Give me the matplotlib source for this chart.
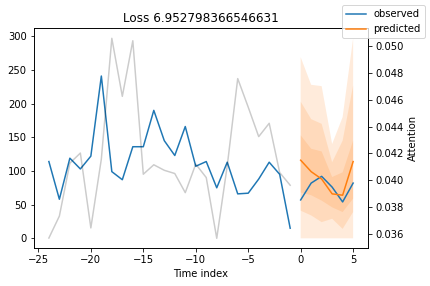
import matplotlib
matplotlib.use("Agg")
import matplotlib.pyplot as plt

# encoder part (history)
x_encoder = list(range(-24, 0))
y_encoder = [114, 58, 119, 103, 122, 241, 99, 87, 136, 136, 190, 145,
             123, 166, 107, 114, 75, 113, 66, 67, 88, 113, 95, 15]
attention = [0.03572, 0.03735, 0.04128, 0.04203, 0.03647, 0.04158, 0.05055, 0.04624,
             0.05037, 0.04046, 0.04116, 0.04075, 0.04051, 0.03909, 0.04121, 0.04021,
             0.03570, 0.04108, 0.04756, 0.04544, 0.04325, 0.04424, 0.04058, 0.03964]

# decoder part (forecast horizon)
x_decoder = list(range(0, 6))
y_decoder = [57, 82, 92, 76, 54, 82]
y_pred = [116, 99, 88, 66, 64, 114]
# quantiles 0.02, 0.1, 0.25, 0.75, 0.9, 0.98
q02 = [0, 0, 0, 0, 0, 0]
q10 = [41, 34, 24, 29, 14, 39]
q25 = [68, 64, 56, 46, 39, 59]
q75 = [153, 133, 129, 91, 98, 145]
q90 = [203, 177, 170, 113, 145, 227]
q98 = [269, 228, 226, 140, 180, 297]

loss = 6.952798366546631

obs_color = "C0"
pred_color = "C1"

fig = plt.figure(figsize=(430 / 72, 286 / 72), dpi=72)
ax = fig.add_axes([0.0783, 0.1318, 0.7783, 0.7692])

ax.plot(x_encoder, y_encoder, label="observed", c=obs_color)
ax.plot(x_decoder, y_decoder, c=obs_color)
ax.plot(x_decoder, y_pred, label="predicted", c=pred_color)

for lo, hi in [(q02, q98), (q10, q90), (q25, q75)]:
	ax.fill_between(x_decoder, lo, hi, alpha=0.15, fc=pred_color)

ax2 = ax.twinx()
ax2.plot(x_encoder, attention, alpha=0.2, color="k")
ax2.set_ylabel("Attention")

ax.set_xlabel("Time index")
ax.set_title("Loss " + str(loss))
fig.legend(loc="upper right")

fig.savefig("out.png", dpi=72)
